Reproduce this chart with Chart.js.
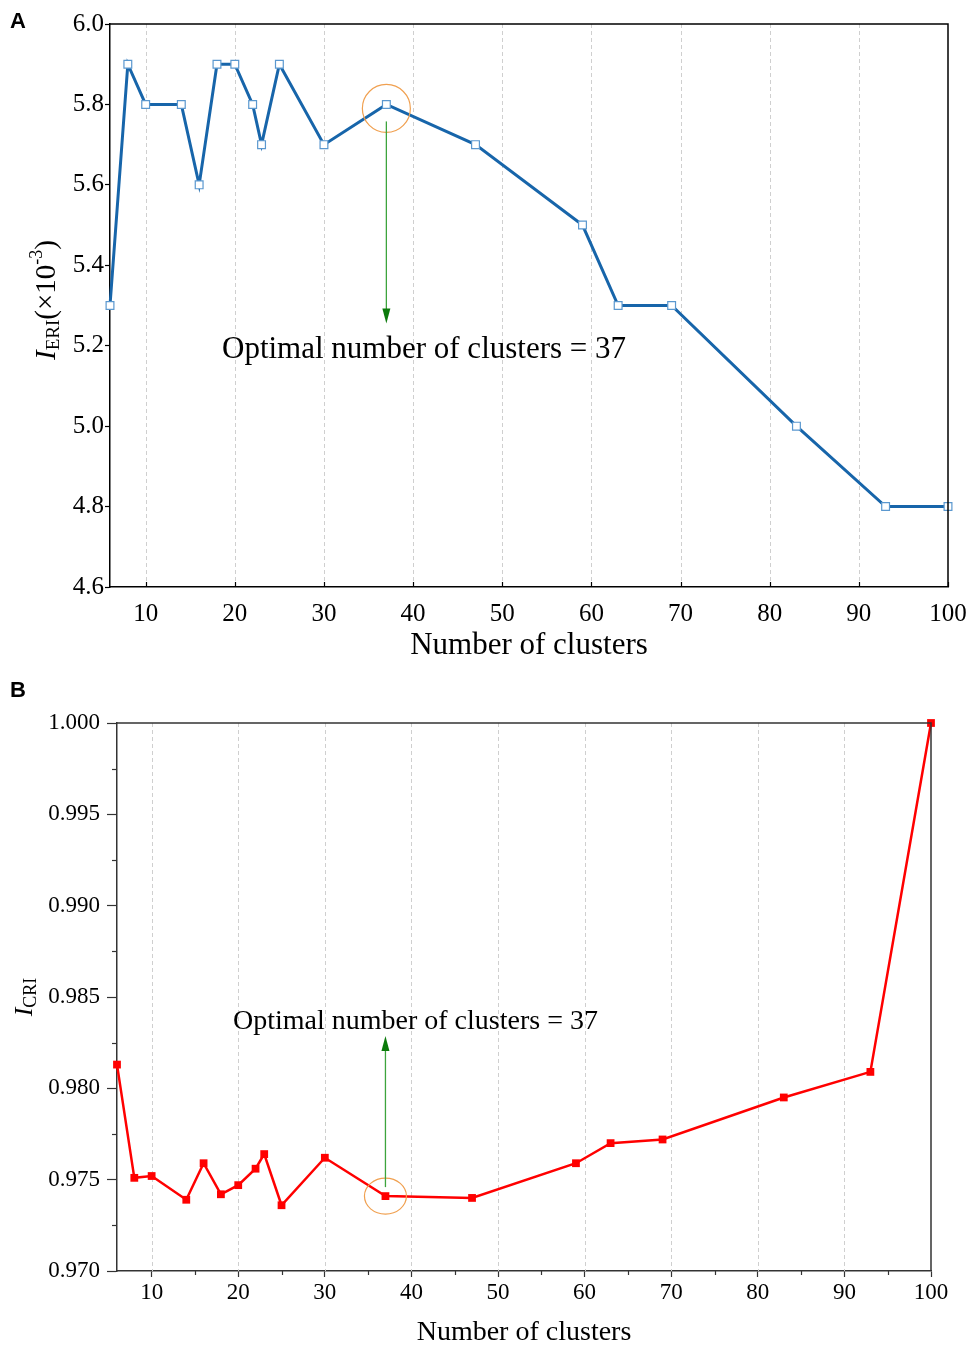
<!DOCTYPE html>
<html>
<head>
<meta charset="utf-8">
<script src="https://cdn.jsdelivr.net/npm/chart.js@4.4.1/dist/chart.umd.min.js"></script>
<style>
  html, body { margin: 0; padding: 0; background: #fff; }
  canvas { display: block; }
</style>
</head>
<body>
<canvas id="chartA" width="971" height="670"></canvas>
<canvas id="chartB" width="971" height="679"></canvas>
<script>
const clusters = [6, 8, 10, 14, 16, 18, 20, 22, 23, 25, 30, 37, 47, 59, 63, 69, 83, 93, 100];
const eriValues = [5.3, 5.9, 5.8, 5.8, 5.6, 5.9, 5.9, 5.8, 5.7, 5.9, 5.7, 5.8, 5.7, 5.5, 5.3, 5.3, 5.0, 4.8, 4.8];
const criValues = [0.9813, 0.9751, 0.9752, 0.9739, 0.9759, 0.9742, 0.9747, 0.9756, 0.9764, 0.9736, 0.9762, 0.9741, 0.9740, 0.9759, 0.9770, 0.9772, 0.9795, 0.9809, 1.0];
const xTicks = [10, 20, 30, 40, 50, 60, 70, 80, 90, 100];
const eriTicks = [4.6, 4.8, 5.0, 5.2, 5.4, 5.6, 5.8, 6.0];
const criTicks = [0.970, 0.975, 0.980, 0.985, 0.990, 0.995, 1.000];
const optimal = 37;
const noteText = 'Optimal number of clusters = 37';

const SERIF = '"Liberation Serif", "Times New Roman", serif';
const SANS = '"Liberation Sans", Arial, sans-serif';

function midpoints(arr) {
  return arr.slice(0, -1).map((v, i) => (v + arr[i + 1]) / 2);
}

// keep the plot area where we put it, whatever the labels want
function noPad(s) {
  s.paddingLeft = 0; s.paddingRight = 0; s.paddingTop = 0; s.paddingBottom = 0;
}

// text made of pieces (for subscripts / superscripts), optionally rotated
function drawRich(ctx, parts, x, y, rotate) {
  ctx.save();
  ctx.translate(x, y);
  if (rotate) ctx.rotate(-Math.PI / 2);
  let total = 0;
  parts.forEach(p => { ctx.font = p.font; total += ctx.measureText(p.text).width; });
  let cx = -total / 2;
  ctx.textAlign = 'left';
  ctx.textBaseline = 'middle';
  ctx.fillStyle = '#000';
  parts.forEach(p => {
    ctx.font = p.font;
    ctx.fillText(p.text, cx, p.dy || 0);
    cx += ctx.measureText(p.text).width;
  });
  ctx.restore();
}

function drawArrow(ctx, x, yFrom, yTo) {
  const dir = yTo > yFrom ? 1 : -1;
  ctx.save();
  ctx.strokeStyle = '#3da43d';
  ctx.lineWidth = 1.3;
  ctx.beginPath();
  ctx.moveTo(x, yFrom);
  ctx.lineTo(x, yTo - dir * 12);
  ctx.stroke();
  ctx.fillStyle = '#0b7a0b';
  ctx.beginPath();
  ctx.moveTo(x, yTo);
  ctx.lineTo(x - 4, yTo - dir * 15);
  ctx.lineTo(x + 4, yTo - dir * 15);
  ctx.closePath();
  ctx.fill();
  ctx.restore();
}

function dashedGrid(chart) {
  const {ctx, chartArea: a, scales: {x}} = chart;
  ctx.save();
  ctx.strokeStyle = '#cfcfcf';
  ctx.lineWidth = 1;
  ctx.setLineDash([4, 3]);
  xTicks.slice(0, -1).forEach(v => {
    const px = Math.round(x.getPixelForValue(v)) + 0.5;
    ctx.beginPath();
    ctx.moveTo(px, a.top);
    ctx.lineTo(px, a.bottom);
    ctx.stroke();
  });
  ctx.restore();
}

function frame(chart, color) {
  const {ctx, chartArea: a} = chart;
  ctx.save();
  ctx.strokeStyle = color;
  ctx.lineWidth = 1.5;
  ctx.beginPath();
  ctx.moveTo(a.left, a.top);
  ctx.lineTo(a.right, a.top);
  ctx.lineTo(a.right, a.bottom);
  ctx.stroke();
  ctx.restore();
}

const decorA = {
  id: 'decorA',
  beforeDatasetsDraw(chart) {
    dashedGrid(chart);
  },
  afterDraw(chart) {
    const {ctx, chartArea: a, scales: {x, y}} = chart;
    frame(chart, '#000');
    // short inward ticks on the x axis
    ctx.save();
    ctx.strokeStyle = '#000';
    ctx.lineWidth = 1.2;
    xTicks.forEach(v => {
      const px = Math.round(x.getPixelForValue(v)) + 0.5;
      ctx.beginPath();
      ctx.moveTo(px, a.bottom);
      ctx.lineTo(px, a.bottom - 5);
      ctx.stroke();
    });
    ctx.restore();

    const ox = x.getPixelForValue(optimal);
    const oy = y.getPixelForValue(eriValues[clusters.indexOf(optimal)]);
    ctx.save();
    ctx.strokeStyle = '#f0a050';
    ctx.lineWidth = 1.2;
    ctx.beginPath();
    ctx.arc(ox, oy + 4, 24, 0, Math.PI * 2);
    ctx.stroke();
    ctx.restore();
    drawArrow(ctx, ox, oy + 17, oy + 219);

    ctx.save();
    ctx.font = '31px ' + SERIF;
    ctx.fillStyle = '#000';
    ctx.textAlign = 'left';
    ctx.textBaseline = 'middle';
    ctx.fillText(noteText, 222, 350);
    ctx.restore();

    drawRich(ctx, [
      {text: 'I', font: 'italic 29px ' + SERIF},
      {text: 'ERI', font: '19px ' + SERIF, dy: 7},
      {text: '(×10', font: '29px ' + SERIF},
      {text: '-3', font: '18px ' + SERIF, dy: -10},
      {text: ')', font: '29px ' + SERIF}
    ], 47, 300, true);

    ctx.save();
    ctx.font = 'bold 22px ' + SANS;
    ctx.fillStyle = '#000';
    ctx.textBaseline = 'top';
    ctx.fillText('A', 10, 11);
    ctx.restore();
  }
};

const decorB = {
  id: 'decorB',
  beforeDatasetsDraw(chart) {
    dashedGrid(chart);
  },
  afterDraw(chart) {
    const {ctx, chartArea: a, scales: {x, y}} = chart;
    frame(chart, '#333');
    // minor ticks
    ctx.save();
    ctx.strokeStyle = '#333';
    ctx.lineWidth = 1.2;
    midpoints(xTicks).forEach(v => {
      const px = Math.round(x.getPixelForValue(v)) + 0.5;
      ctx.beginPath();
      ctx.moveTo(px, a.bottom);
      ctx.lineTo(px, a.bottom + 4);
      ctx.stroke();
    });
    midpoints(criTicks).forEach(v => {
      const py = Math.round(y.getPixelForValue(v)) + 0.5;
      ctx.beginPath();
      ctx.moveTo(a.left, py);
      ctx.lineTo(a.left - 5, py);
      ctx.stroke();
    });
    ctx.restore();

    const ox = x.getPixelForValue(optimal);
    const oy = y.getPixelForValue(criValues[clusters.indexOf(optimal)]);
    ctx.save();
    ctx.strokeStyle = '#f0a050';
    ctx.lineWidth = 1.2;
    ctx.beginPath();
    ctx.ellipse(ox, oy, 21, 18, 0, 0, Math.PI * 2);
    ctx.stroke();
    ctx.restore();
    drawArrow(ctx, ox, oy - 9, oy - 160);

    ctx.save();
    ctx.font = '28px ' + SERIF;
    ctx.fillStyle = '#000';
    ctx.textAlign = 'left';
    ctx.textBaseline = 'middle';
    ctx.fillText(noteText, 233, 352);
    ctx.restore();

    drawRich(ctx, [
      {text: 'I', font: 'italic 26px ' + SERIF},
      {text: 'CRI', font: '18px ' + SERIF, dy: 6}
    ], 25, 327, true);

    ctx.save();
    ctx.font = 'bold 22px ' + SANS;
    ctx.fillStyle = '#000';
    ctx.textBaseline = 'top';
    ctx.fillText('B', 10, 10);
    ctx.restore();
  }
};

new Chart(document.getElementById('chartA'), {
  type: 'line',
  data: {
    datasets: [{
      data: clusters.map((c, i) => ({x: c, y: eriValues[i]})),
      borderColor: '#1765aa',
      borderWidth: 3,
      tension: 0,
      pointStyle: 'rect',
      pointRadius: 5.5,
      pointBorderWidth: 1.2,
      pointBorderColor: '#5b98cf',
      pointBackgroundColor: '#fff',
      clip: false
    }]
  },
  options: {
    responsive: false,
    animation: false,
    layout: {padding: {top: 24, right: 23, left: 0, bottom: 0}},
    plugins: {legend: {display: false}, tooltip: {enabled: false}},
    scales: {
      x: {
        type: 'linear', min: 6, max: 100,
        afterBuildTicks: s => { s.ticks = xTicks.map(v => ({value: v})); },
        afterFit: s => { s.height = 83; noPad(s); },
        grid: {drawOnChartArea: false, drawTicks: false},
        border: {color: '#000', width: 1.5},
        ticks: {color: '#000', padding: 12, maxRotation: 0, font: {family: SERIF, size: 25}},
        title: {display: true, text: 'Number of clusters', color: '#000',
          font: {family: SERIF, size: 31, lineHeight: 1.2}, padding: {top: 2, bottom: 6}}
      },
      y: {
        min: 4.6, max: 6.0,
        afterBuildTicks: s => { s.ticks = eriTicks.map(v => ({value: v})); },
        afterFit: s => { s.width = 110; noPad(s); },
        grid: {drawOnChartArea: false, drawTicks: true, tickLength: 5, tickColor: '#000', tickWidth: 1.2},
        border: {color: '#000', width: 1.5},
        ticks: {color: '#000', padding: 1, font: {family: SERIF, size: 25},
          callback: v => v.toFixed(1)}
      }
    }
  },
  plugins: [decorA]
});

new Chart(document.getElementById('chartB'), {
  type: 'line',
  data: {
    datasets: [{
      data: clusters.map((c, i) => ({x: c, y: criValues[i]})),
      borderColor: '#ff0000',
      borderWidth: 2.5,
      tension: 0,
      pointStyle: 'rect',
      pointRadius: 5.5,
      pointBorderWidth: 0,
      pointBackgroundColor: '#ff0000',
      clip: false
    }]
  },
  options: {
    responsive: false,
    animation: false,
    layout: {padding: {top: 53, right: 40, left: 0, bottom: 0}},
    plugins: {legend: {display: false}, tooltip: {enabled: false}},
    scales: {
      x: {
        type: 'linear', min: 6, max: 100,
        afterBuildTicks: s => { s.ticks = xTicks.map(v => ({value: v})); },
        afterFit: s => { s.height = 78; noPad(s); },
        grid: {drawOnChartArea: false, drawTicks: true, tickLength: 6, tickColor: '#333', tickWidth: 1.2},
        border: {color: '#333', width: 1.5},
        ticks: {color: '#000', padding: 2, maxRotation: 0, font: {family: SERIF, size: 23}},
        title: {display: true, text: 'Number of clusters', color: '#000',
          font: {family: SERIF, size: 28, lineHeight: 1.2}, padding: {top: 2, bottom: 0}}
      },
      y: {
        min: 0.97, max: 1.0,
        afterBuildTicks: s => { s.ticks = criTicks.map(v => ({value: v})); },
        afterFit: s => { s.width = 117; noPad(s); },
        grid: {drawOnChartArea: false, drawTicks: true, tickLength: 10, tickColor: '#333', tickWidth: 1.2},
        border: {color: '#333', width: 1.5},
        ticks: {color: '#000', padding: 7, font: {family: SERIF, size: 23},
          callback: v => v.toFixed(3)}
      }
    }
  },
  plugins: [decorB]
});
</script>
</body>
</html>
